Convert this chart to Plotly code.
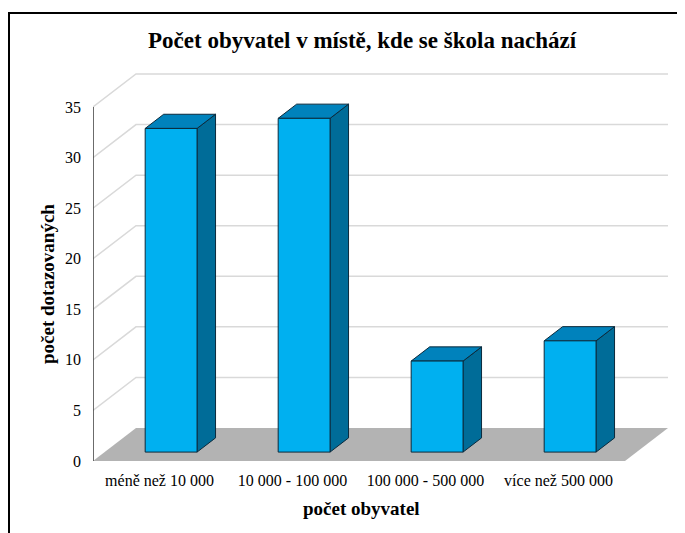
import plotly.graph_objects as go

# ---- data ----
categories = ["méně než 10 000", "10 000 - 100 000", "100 000 - 500 000", "více než 500 000"]
values = [32, 33, 9, 11]
y_ticks = [0, 5, 10, 15, 20, 25, 30, 35]
chart_title = "Počet obyvatel v místě, kde se škola nachází"
x_title = "počet obyvatel"
y_title = "počet dotazovaných"

# ---- geometry (pixel calibration of the oblique projection) ----
OFF = 8                      # page body margin offset
W, H = 685 - OFF, 533 - OFF
L = 93 - OFF                 # front-left x of plot area
T = 68 - OFF
R = 13
B = H - (463 - OFF)
PX_PER_CAT = 133.0
PX_PER_UNIT = 10.114
Y0PX = 461.0 - OFF
x_lo = -0.5
x_hi = x_lo + (W - L - R) / PX_PER_CAT
y_lo = (Y0PX - (H - B)) / PX_PER_UNIT
y_hi = (Y0PX - T) / PX_PER_UNIT
DX = 43 / PX_PER_CAT          # depth offset in category units
DY = 33 / PX_PER_UNIT         # depth offset in value units
D1, D2 = 0.27, 0.70           # bar depth span (fraction)
HALF = 0.195                  # bar half width
n = len(categories)
x_left, x_right = -0.5, n - 0.5
y_top = max(y_ticks)

FRONT = "#00B0F0"
TOP = "#0082BC"
SIDE = "#006C98"
EDGE = "#0B2A3C"
FLOOR = "#B3B3B3"
GRID = "#D9D9D9"
FONT = "Liberation Serif, Times New Roman, serif"

fig = go.Figure()

def poly(xs, ys, fill, line_color=None, width=0):
    fig.add_trace(go.Scatter(
        x=list(xs) + [xs[0]], y=list(ys) + [ys[0]], mode="lines", fill="toself",
        fillcolor=fill, line=dict(color=line_color or fill, width=width),
        hoverinfo="skip", showlegend=False))

# floor
poly([x_left, x_right, x_right + DX, x_left + DX], [0, 0, DY, DY], FLOOR)

# wall gridlines (side wall diagonals + back wall horizontals)
gx, gy = [], []
for v in y_ticks[1:]:
    gx += [x_left, x_left + DX, x_right + DX, None]
    gy += [v, v + DY, v + DY, None]
fig.add_trace(go.Scatter(x=gx, y=gy, mode="lines", line=dict(color=GRID, width=1.5),
                         hoverinfo="skip", showlegend=False))

# front value axis line
fig.add_trace(go.Scatter(x=[x_left, x_left], y=[0, y_top], mode="lines",
                         line=dict(color="#3a3a3a", width=1.5), hoverinfo="skip", showlegend=False))

# 3D bars
for i, v in enumerate(values):
    fx0, fx1 = i - HALF + D1 * DX, i + HALF + D1 * DX
    fy0, fy1 = D1 * DY, v + D1 * DY
    ddx, ddy = (D2 - D1) * DX, (D2 - D1) * DY
    poly([fx1, fx1 + ddx, fx1 + ddx, fx1], [fy0, fy0 + ddy, fy1 + ddy, fy1], SIDE, EDGE, 1)
    poly([fx0, fx1, fx1 + ddx, fx0 + ddx], [fy1, fy1, fy1 + ddy, fy1 + ddy], TOP, EDGE, 1)
    poly([fx0, fx1, fx1, fx0], [fy0, fy0, fy1, fy1], FRONT, EDGE, 1)

def px2paper_x(px):
    return (px - OFF - L) / (W - L - R)

def px2paper_y(py):
    return ((H - B) - (py - OFF)) / (H - T - B)

fig.update_layout(
    width=W, height=H,
    margin=dict(l=L, r=R, t=T, b=B, autoexpand=False),
    paper_bgcolor="white", plot_bgcolor="white",
    showlegend=False,
    font=dict(family=FONT, color="black", size=16),
    xaxis=dict(range=[x_lo, x_hi], tickvals=list(range(n)), ticktext=categories,
               showgrid=False, zeroline=False, showline=False, ticks="",
               tickfont=dict(size=16, family=FONT), ticklabelstandoff=6, fixedrange=True),
    yaxis=dict(range=[y_lo, y_hi], tickvals=y_ticks, showgrid=False, zeroline=False,
               showline=False, ticks="", tickfont=dict(size=16, family=FONT),
               ticklabelstandoff=11, fixedrange=True),
    shapes=[dict(type="rect", xref="paper", yref="paper",
                 x0=px2paper_x(9), x1=px2paper_x(720), y0=px2paper_y(560), y1=px2paper_y(13),
                 line=dict(color="black", width=2), fillcolor="rgba(0,0,0,0)", layer="above")],
    annotations=[
        dict(text="<b>" + chart_title + "</b>", xref="paper", yref="paper",
             x=px2paper_x(362), y=px2paper_y(40), showarrow=False,
             font=dict(size=23, family=FONT), xanchor="center", yanchor="middle"),
        dict(text="<b>" + x_title + "</b>", xref="paper", yref="paper",
             x=px2paper_x(361), y=px2paper_y(508), showarrow=False,
             font=dict(size=19, family=FONT), xanchor="center", yanchor="middle"),
        dict(text="<b>" + y_title + "</b>", xref="paper", yref="paper",
             x=px2paper_x(47), y=px2paper_y(284), showarrow=False, textangle=-90,
             font=dict(size=19, family=FONT), xanchor="center", yanchor="middle"),
    ],
)

fig.write_html("out.html")
